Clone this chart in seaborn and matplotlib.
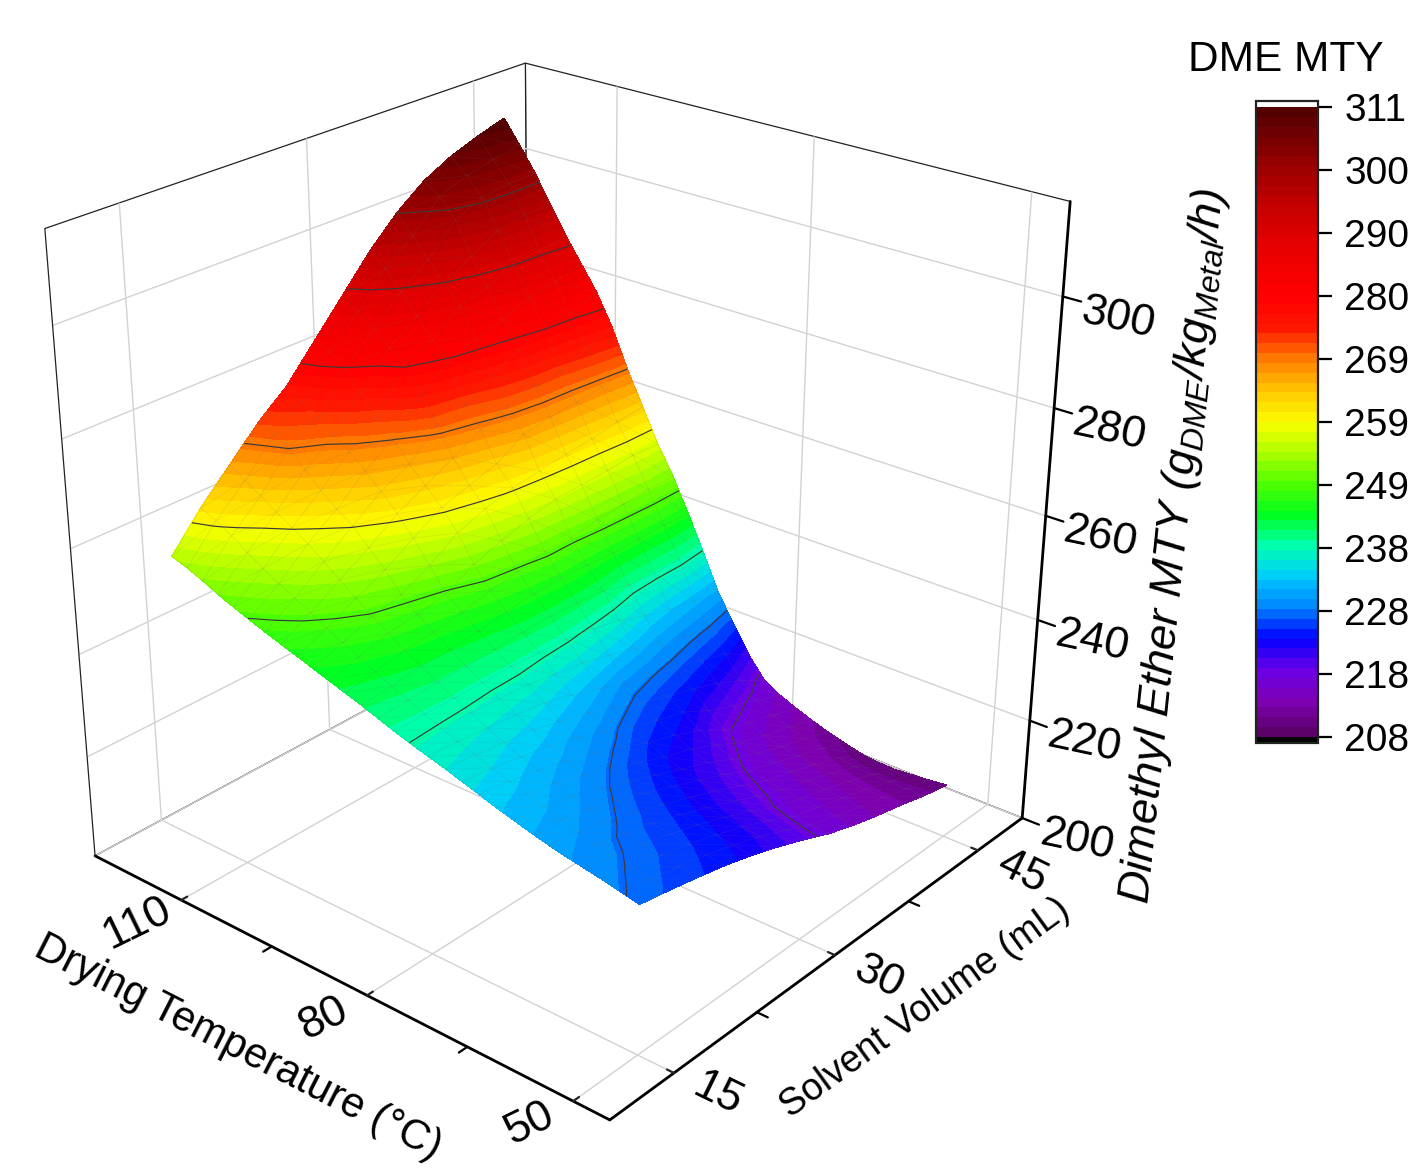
import numpy as np
import matplotlib
matplotlib.use("Agg")
import matplotlib.pyplot as plt
from matplotlib.colors import ListedColormap, Normalize
from matplotlib.cm import ScalarMappable
from mpl_toolkits.mplot3d import proj3d
import seaborn as sns

# drying temperature rows, 120 down to 50 in 2.5 steps
temperature = [120, 117.5, 115, 112.5, 110, 107.5, 105, 102.5, 100, 97.5, 95, 92.5, 90, 87.5, 85,
               82.5, 80, 77.5, 75, 72.5, 70, 67.5, 65, 62.5, 60, 57.5, 55, 52.5, 50]
volume = [15, 17.5, 20, 22.5, 25, 27.5, 30, 32.5, 35, 37.5, 40, 42.5, 45]

# MTY, one list per solvent volume
mty_v15 = [255, 254, 252.8, 251.4, 250.2, 249.1, 248, 247, 246, 245, 244, 243, 242, 240.9, 239.8,
           238.8, 237.9, 237, 236, 235, 234, 233.1, 232.2, 231.4, 230.7, 230.1, 229.5, 228.8, 228.1]
mty_v17 = [261.5, 260.2, 258.5, 256.5, 254.7, 253, 251.5, 250, 248.3, 246.9, 245.4, 243.9, 242.5, 241.2, 239.9,
           238.6, 237.4, 236.3, 235.3, 234.2, 233.2, 232.3, 231.4, 230.5, 229.6, 229, 228.3, 227.7, 227.1]
mty_v20 = [267, 265.2, 263.4, 261.5, 259.7, 257.8, 255.6, 253.4, 251.1, 248.9, 247, 245, 243.3, 241.6, 239.9,
           238.4, 236.9, 235.5, 234.2, 233, 231.9, 230.9, 230, 229.1, 228.2, 227.7, 227.2, 226.6, 226]
mty_v22 = [272.5, 271.3, 269.9, 266.9, 264.1, 261.7, 259.7, 256.7, 253.7, 250.2, 247.7, 245.6, 243.5, 241.6, 239.8,
           238, 236.3, 234.8, 233.1, 231.7, 230.3, 229.2, 228.3, 227.5, 226.8, 226.3, 225.8, 225.3, 224.8]
mty_v25 = [277, 275.1, 273, 270.8, 268.9, 266.3, 263.6, 260.5, 257, 253, 248.8, 246.5, 244.1, 241.9, 239.9,
           237.7, 235.5, 233.3, 231.5, 230, 228.5, 227.3, 226.4, 225.7, 225.2, 224.7, 224.2, 223.8, 223.3]
mty_v27 = [283.2, 282.3, 279.9, 276.5, 272.9, 270, 266.2, 263.2, 260.2, 256.5, 251.7, 247.8, 245, 242.3, 239.6,
           236.7, 234, 231.8, 229.7, 228, 226.3, 225.3, 224.5, 223.8, 223.2, 222.8, 222.4, 222, 221.5]
mty_v30 = [289.4, 287.4, 285, 282.6, 280.6, 276, 271, 266, 261.8, 258.5, 253.5, 248.7, 245.6, 242.5, 239.3,
           236, 232.3, 229.8, 227.4, 225.6, 224.2, 223.2, 222.4, 221.8, 221.2, 220.7, 220.3, 219.9, 219.5]
mty_v32 = [295.6, 293.3, 289.9, 286.2, 282.8, 279.6, 272.6, 268.8, 263.4, 259.9, 255.1, 249.9, 246, 242.3, 238.5,
           234.5, 230, 227.6, 225.6, 224, 222.6, 221.4, 220.4, 219.6, 218.9, 218.2, 217.8, 217.5, 217.3]
mty_v35 = [300.8, 297.4, 293.8, 290.4, 286.9, 281.7, 275.8, 271, 266.6, 260.6, 256.3, 249.9, 245.7, 241.9, 237.3,
           233, 228.8, 226, 224.2, 221.8, 220.3, 218.8, 217.9, 217.3, 216.9, 216.6, 216.3, 216, 215.6]
mty_v37 = [304.8, 302.7, 299.2, 293.2, 288.4, 283.1, 278.3, 272.5, 267.5, 261.4, 256.5, 250.8, 245.4, 240.2, 235.3,
           231, 227.6, 224.4, 221.4, 218.8, 217.6, 216.9, 216.3, 215.9, 215.5, 215.2, 214.8, 214.5, 214.2]
mty_v40 = [307.5, 304.7, 301.4, 296.1, 290.3, 285.2, 280.1, 273, 268, 261.9, 256.8, 251.2, 245.5, 239.8, 233.8,
           229.6, 226, 222.6, 219.3, 217.2, 215.9, 215, 214.5, 214.1, 213.8, 213.5, 213.3, 213.1, 213]
mty_v42 = [309.4, 305.8, 302.1, 297, 291, 286.1, 281.1, 275.1, 268.6, 262.8, 257.3, 251.6, 245.7, 239.9, 232.7,
           228.4, 224.4, 220.2, 217.4, 215.7, 214.6, 213.6, 212.9, 212.3, 211.9, 211.7, 211.6, 211.6, 211.6]
mty_v45 = [311, 306.7, 302.2, 297, 291.9, 287.4, 282.8, 277, 269.8, 263.4, 257, 251.6, 245.2, 238.5, 231.5,
           226.3, 221.2, 217.2, 215.4, 214, 212.8, 211.7, 210.8, 210, 209.6, 209.5, 209.8, 210.1, 210.5]

# colour bar is evenly divided, its labels drop the decimals
cbar_ticks = [208, 218.3, 228.6, 238.9, 249.2, 259.5, 269.8, 280.1, 290.4, 300.7, 311]
cbar_labels = ["208", "218", "228", "238", "249", "259", "269", "280", "290", "300", "311"]
z_ticks = [200, 220, 240, 260, 280, 300]
v_ticks = [15, 30, 45]
t_ticks = [50, 80, 110]
v_minor = [22.5, 37.5]
t_minor = [65, 95]

rainbow = ["#540000", "#7c0000", "#a40000", "#c40000", "#e00000", "#f40000", "#ff0000", "#ff1800", "#ff8000",
           "#ffc800", "#ffff00", "#b0ff00", "#50ff00", "#00ff20", "#00ffb0", "#00caff", "#0088ff", "#0000ff",
           "#6a00e8", "#8000b4", "#5a0068"][::-1]

sns.set_theme(style="white", font="Liberation Sans", rc={"grid.color": "#d2d2d2", "grid.linewidth": 1.0,
                                                          "text.color": "black",
                                                          "mathtext.fontset": "custom",
                                                          "mathtext.it": "Liberation Sans:italic",
                                                          "mathtext.rm": "Liberation Sans"})

cmap = ListedColormap(sns.blend_palette(rainbow, n_colors=64))
cmap.set_over("white")
cmap.set_under("black")
norm = Normalize(208, 311)

V, T = np.meshgrid(volume, temperature)
Z = np.array([mty_v15, mty_v17, mty_v20, mty_v22, mty_v25, mty_v27, mty_v30, mty_v32, mty_v35, mty_v37,
              mty_v40, mty_v42, mty_v45]).T

W, H = 1418, 1170
v_lim = (9.5, 50)
t_lim = (45, 125)
z_lim = (200, 316.5)

fig = plt.figure(figsize=(W / 100, H / 100), dpi=100)
ax = fig.add_axes([-32.6 / W, 32.4 / H, 1161 / W, 1161 / H], projection="3d", computed_zorder=False)
ax.view_init(26.03, -139.67)
ax.set_proj_type("persp", focal_length=0.48)
ax.set_box_aspect((0.996, 1.0045, 1))
ax.set_xlim(*v_lim)
ax.set_ylim(*t_lim)
ax.set_zlim(*z_lim)

ax.plot_surface(V, T, Z, cmap=cmap, norm=norm, rstride=1, cstride=1, linewidth=0, shade=False, zorder=1)

ax.set_xticks(v_ticks)
ax.set_yticks(t_ticks)
ax.set_zticks(z_ticks)
ax.set_xticklabels([])
ax.set_yticklabels([])
ax.set_zticklabels([])
for axis in (ax.xaxis, ax.yaxis, ax.zaxis):
    axis.set_pane_color((1, 1, 1, 1))
    axis.pane.set_edgecolor("#222222")
    axis.pane.set_linewidth(0.9)
    axis.line.set_linewidth(2.0)
    axis.line.set_color("black")
    axis._axinfo["tick"]["inward_factor"] = 0
    axis._axinfo["tick"]["outward_factor"] = 0.15
    axis._axinfo["tick"]["linewidth"] = {True: 1.6, False: 1.6}
    axis._axinfo["tick"]["color"] = "black"

# the z axis belongs on the right edge, mplot3d would put it on the left
ax.zaxis.line.set_color((0, 0, 0, 0))
ax.zaxis._axinfo["tick"]["outward_factor"] = 0
ax.plot([v_lim[1], v_lim[1]], [t_lim[0], t_lim[0]], z_lim, color="black", lw=2.0)
ax.plot([v_lim[0], v_lim[0]], [t_lim[1], t_lim[1]], z_lim, color="#222222", lw=0.9)
for z in z_ticks:
    ax.plot([v_lim[1], v_lim[1]], [t_lim[0], t_lim[0] - 2.4], [z, z], color="black", lw=1.6)

for v in v_minor:
    ax.plot([v, v], [t_lim[0], t_lim[0] - 1.5], [z_lim[0], z_lim[0]], color="black", lw=1.6)
for t in t_minor:
    ax.plot([v_lim[0], v_lim[0] - 0.7], [t, t], [z_lim[0], z_lim[0]], color="black", lw=1.6)

# same screen coordinates as the 3d axes, so the colour bands can follow the surface
M = ax.get_proj()
Xp, Yp, _ = proj3d.proj_transform(V.ravel(), T.ravel(), Z.ravel(), M)
Xp = np.asarray(Xp).reshape(V.shape)
Yp = np.asarray(Yp).reshape(V.shape)

over = fig.add_axes(ax.get_position(), facecolor="none")
over.set_xlim(*ax.viewLim.intervalx)
over.set_ylim(*ax.viewLim.intervaly)
over.set_autoscale_on(False)
over.axis("off")

bands = over.contourf(Xp, Yp, Z, levels=np.linspace(208, 311, 65), cmap=cmap, norm=norm)
bands.set_edgecolor("face")
bands.set_linewidth(0.3)
over.plot(Xp, Yp, color="#707070", lw=0.4, alpha=0.22)
over.plot(Xp.T, Yp.T, color="#707070", lw=0.4, alpha=0.22)
over.plot(np.array([Xp[:-1, :-1].ravel(), Xp[1:, 1:].ravel()]), np.array([Yp[:-1, :-1].ravel(), Yp[1:, 1:].ravel()]),
          color="#707070", lw=0.4, alpha=0.16)
over.contour(Xp, Yp, Z, levels=cbar_ticks[1:-1], colors="#3a3a3a", linewidths=0.85)


def tick_text(x, y, z, s, off, size, rot):
    px, py, _ = proj3d.proj_transform(x, y, z, M)
    over.annotate(s, xy=(px, py), xytext=off, textcoords="offset pixels", fontsize=size, rotation=rot,
                  ha="center", va="center", rotation_mode="anchor", annotation_clip=False)


for v in v_ticks:
    tick_text(v, t_lim[0], z_lim[0], str(v), (44, -22), 32, -26)
for t in t_ticks:
    tick_text(v_lim[0], t, z_lim[0], str(t), (-44, -23), 32, 26)
for z in z_ticks:
    tick_text(v_lim[1], t_lim[0], z, str(z), (55, -22), 32, -12)


def px_text(x, y, s, size, rot, **kw):
    fig.text(x / W, 1 - y / H, s, fontsize=size, rotation=rot, ha="center", va="center",
             rotation_mode="anchor", **kw)


px_text(238, 1048, "Drying Temperature (°C)", 30, -27)
px_text(925, 1008, "Solvent Volume (mL)", 27, 36)
px_text(1174, 546, r"Dimethyl Ether MTY (g$_{\mathit{DME}}$/kg$_{\mathit{Metal}}$/h)", 32.5, 84, style="italic")
px_text(1286, 60, "DME MTY", 30.5, 0)

cax = fig.add_axes([1256 / W, 1 - 743 / H, 62 / W, 642 / H])
cb = fig.colorbar(ScalarMappable(norm=norm, cmap=cmap), cax=cax, extend="both", extendrect=True,
                  extendfrac=6 / 630, ticks=cbar_ticks, drawedges=False)
cb.ax.set_yticklabels(cbar_labels)
cb.ax.tick_params(labelsize=28, length=10, width=1.6, color="black", labelcolor="black", pad=9,
                  direction="out", right=True)
cb.outline.set_linewidth(1.6)
cb.outline.set_edgecolor("#222222")

fig.savefig("out.png", dpi=100, facecolor="white")
